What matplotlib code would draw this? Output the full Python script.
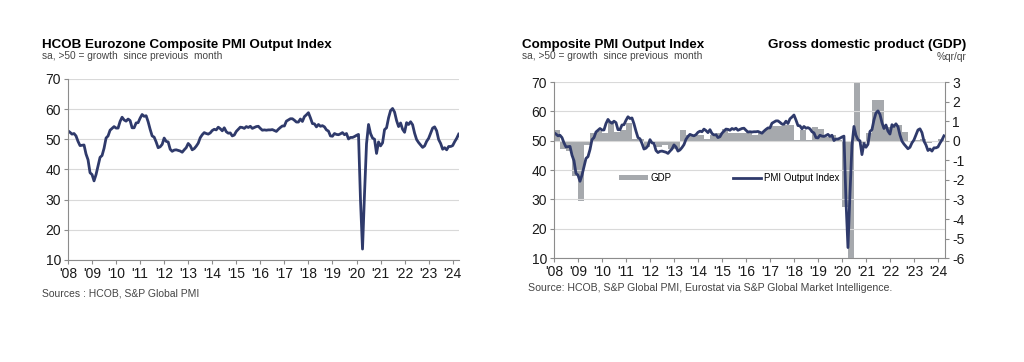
import matplotlib.pyplot as plt
import numpy as np
from matplotlib.patches import Patch
from matplotlib.lines import Line2D

plt.rcParams['font.family'] = ['Liberation Sans', 'DejaVu Sans']
plt.rcParams['axes.unicode_minus'] = False

# monthly composite PMI output index, Jan 2008 .. Apr 2024
pmi = [
	52.8, 52.3, 51.7, 51.9, 51.1, 49.3, 47.9, 48.0, 48.1, 45.1, 43.2, 38.9,  # 2008
	38.3, 36.2, 38.3, 41.1, 44.0, 44.6, 47.0, 50.4, 51.1, 53.0, 53.6, 54.2,  # 2009
	53.7, 53.7, 55.9, 57.3, 56.4, 56.0, 56.7, 56.2, 53.8, 53.8, 55.4, 55.5,  # 2010
	57.0, 58.2, 57.6, 57.8, 55.8, 53.3, 51.1, 50.7, 49.1, 47.2, 47.5, 48.3,  # 2011
	50.4, 49.3, 49.1, 46.7, 46.0, 46.4, 46.5, 46.3, 46.1, 45.7, 46.5, 47.2,  # 2012
	48.6, 47.9, 46.5, 46.9, 47.7, 48.7, 50.5, 51.5, 52.2, 51.9, 51.7, 52.1,  # 2013
	52.9, 53.3, 53.1, 54.0, 53.5, 52.8, 53.8, 52.5, 52.0, 52.1, 51.1, 51.4,  # 2014
	52.6, 53.3, 54.0, 53.9, 53.6, 54.2, 53.9, 54.3, 53.6, 53.9, 54.2, 54.3,  # 2015
	53.6, 53.0, 53.1, 53.0, 53.1, 53.1, 53.2, 52.9, 52.6, 53.3, 53.9, 54.4,  # 2016
	54.4, 56.0, 56.4, 56.8, 56.8, 56.3, 55.7, 55.7, 56.7, 55.9, 57.5, 58.1,  # 2017
	58.8, 57.1, 55.2, 55.1, 54.1, 54.9, 54.3, 54.5, 54.1, 53.1, 52.7, 51.1,  # 2018
	51.0, 51.9, 51.6, 51.5, 51.8, 52.2, 51.5, 51.9, 50.1, 50.6, 50.6, 50.9,  # 2019
	51.3, 51.6, 29.7, 13.6, 31.9, 48.5, 54.9, 51.9, 50.4, 50.0, 45.3, 49.1,  # 2020
	47.8, 48.8, 53.2, 53.8, 57.1, 59.5, 60.2, 59.0, 56.2, 54.2, 55.4, 53.3,  # 2021
	52.3, 55.5, 54.9, 55.8, 54.8, 52.0, 49.9, 48.9, 48.1, 47.3, 47.8, 49.3,  # 2022
	50.3, 52.0, 53.7, 54.1, 52.8, 49.9, 48.6, 46.7, 47.2, 46.5, 47.6, 47.6,  # 2023
	47.9, 49.2, 50.3, 51.7,  # 2024
]

# quarterly GDP %q/q, 2008Q1 .. 2024Q1
gdp = [
	0.55, -0.4, -0.5, -1.8,
	-3.1, -0.2, 0.4, 0.5,
	0.4, 1.0, 0.45, 0.55,
	0.9, 0.1, 0.1, -0.3,
	-0.1, -0.3, -0.2, -0.4,
	-0.4, 0.55, 0.3, 0.3,
	0.3, 0.1, 0.3, 0.4,
	0.6, 0.4, 0.4, 0.4,
	0.5, 0.3, 0.4, 0.6,
	0.75, 0.75, 0.8, 0.8,
	0.05, 0.55, 0.05, 0.7,
	0.6, 0.2, 0.3, 0.05,
	-3.4, -11.7, 12.4, -0.1,
	0.4, 2.1, 2.1, 0.7,
	0.7, 0.8, 0.45, 0.0,
	0.05, 0.1, -0.1, -0.05,
	0.1,
]

years = list(range(2008, 2025))
year_labels = ["'%02d" % (y % 100) for y in years]

navy = '#2f3a6b'
barc = '#a6a9ad'
grid = '#d9d9d9'
spine = '#8c8c8c'
txt = '#444444'

x_pmi = 2008 + np.arange(len(pmi)) / 12.0
x_gdp = 2008 + np.arange(len(gdp)) / 4.0


def style(ax):
	for s in ['top', 'right']:
		ax.spines[s].set_visible(False)
	for s in ['left', 'bottom']:
		ax.spines[s].set_color(spine)
		ax.spines[s].set_linewidth(0.8)
	ax.set_ylim(10, 70)
	ax.set_yticks(range(10, 71, 10))
	ax.set_xticks(years)
	ax.set_xticklabels(year_labels)
	ax.tick_params(axis='both', colors=spine, length=3, width=0.8, labelsize=10, labelcolor='#1a1a1a', pad=2)
	ax.yaxis.grid(True, color=grid, linewidth=0.8)
	ax.set_axisbelow(True)


fig = plt.figure(figsize=(10.24, 3.62), dpi=100)

# left chart
ax = fig.add_axes([0.0664, 0.282, 0.382, 0.500])
style(ax)
ax.plot(x_pmi, pmi, color=navy, linewidth=2.0)
ax.set_xlim(2008, 2024.27)

fig.text(0.041, 0.876, 'HCOB Eurozone Composite PMI Output Index', fontsize=9.6, fontweight='bold', va='center')
fig.text(0.041, 0.845, 'sa, >50 = growth  since previous  month', fontsize=7.3, color=txt, va='center')
fig.text(0.041, 0.19, 'Sources : HCOB, S&P Global PMI', fontsize=7.5, color=txt, va='center')

# right chart
axr = fig.add_axes([0.541, 0.287, 0.382, 0.486])
style(axr)
axg = axr.twinx()
axg.bar(x_gdp, gdp, width=0.25, align='edge', color=barc, linewidth=0)
axg.set_ylim(-6, 3)
axg.set_yticks(range(-6, 4))
for s in ['top', 'left', 'bottom']:
	axg.spines[s].set_visible(False)
axg.spines['right'].set_color(spine)
axg.spines['right'].set_linewidth(0.8)
axg.tick_params(axis='y', colors=spine, length=3, width=0.8, labelsize=10, labelcolor='#1a1a1a', pad=2)

axr.set_zorder(axg.get_zorder() + 1)
axr.patch.set_visible(False)
axr.plot(x_pmi, pmi, color=navy, linewidth=2.0)
axr.set_xlim(2008, 2024.3)

handles = [Patch(facecolor=barc, label='GDP'), Line2D([], [], color=navy, linewidth=2.0, label='PMI Output Index')]
axr.legend(handles=handles, loc='center left', bbox_to_anchor=(0.145, 0.455), ncol=2, frameon=False,
	fontsize=7, columnspacing=6.3, handlelength=2.9, handleheight=0.45, handletextpad=0.3)

fig.text(0.51, 0.876, 'Composite PMI Output Index', fontsize=9.6, fontweight='bold', va='center')
fig.text(0.51, 0.845, 'sa, >50 = growth  since previous  month', fontsize=7.3, color=txt, va='center')
fig.text(0.944, 0.876, 'Gross domestic product (GDP)', fontsize=9.7, fontweight='bold', va='center', ha='right')
fig.text(0.944, 0.843, '%qr/qr', fontsize=7.3, color=txt, va='center', ha='right')
fig.text(0.516, 0.204, 'Source: HCOB, S&P Global PMI, Eurostat via S&P Global Market Intelligence.', fontsize=7.6, color=txt, va='center')

fig.savefig('out.png', dpi=100)
